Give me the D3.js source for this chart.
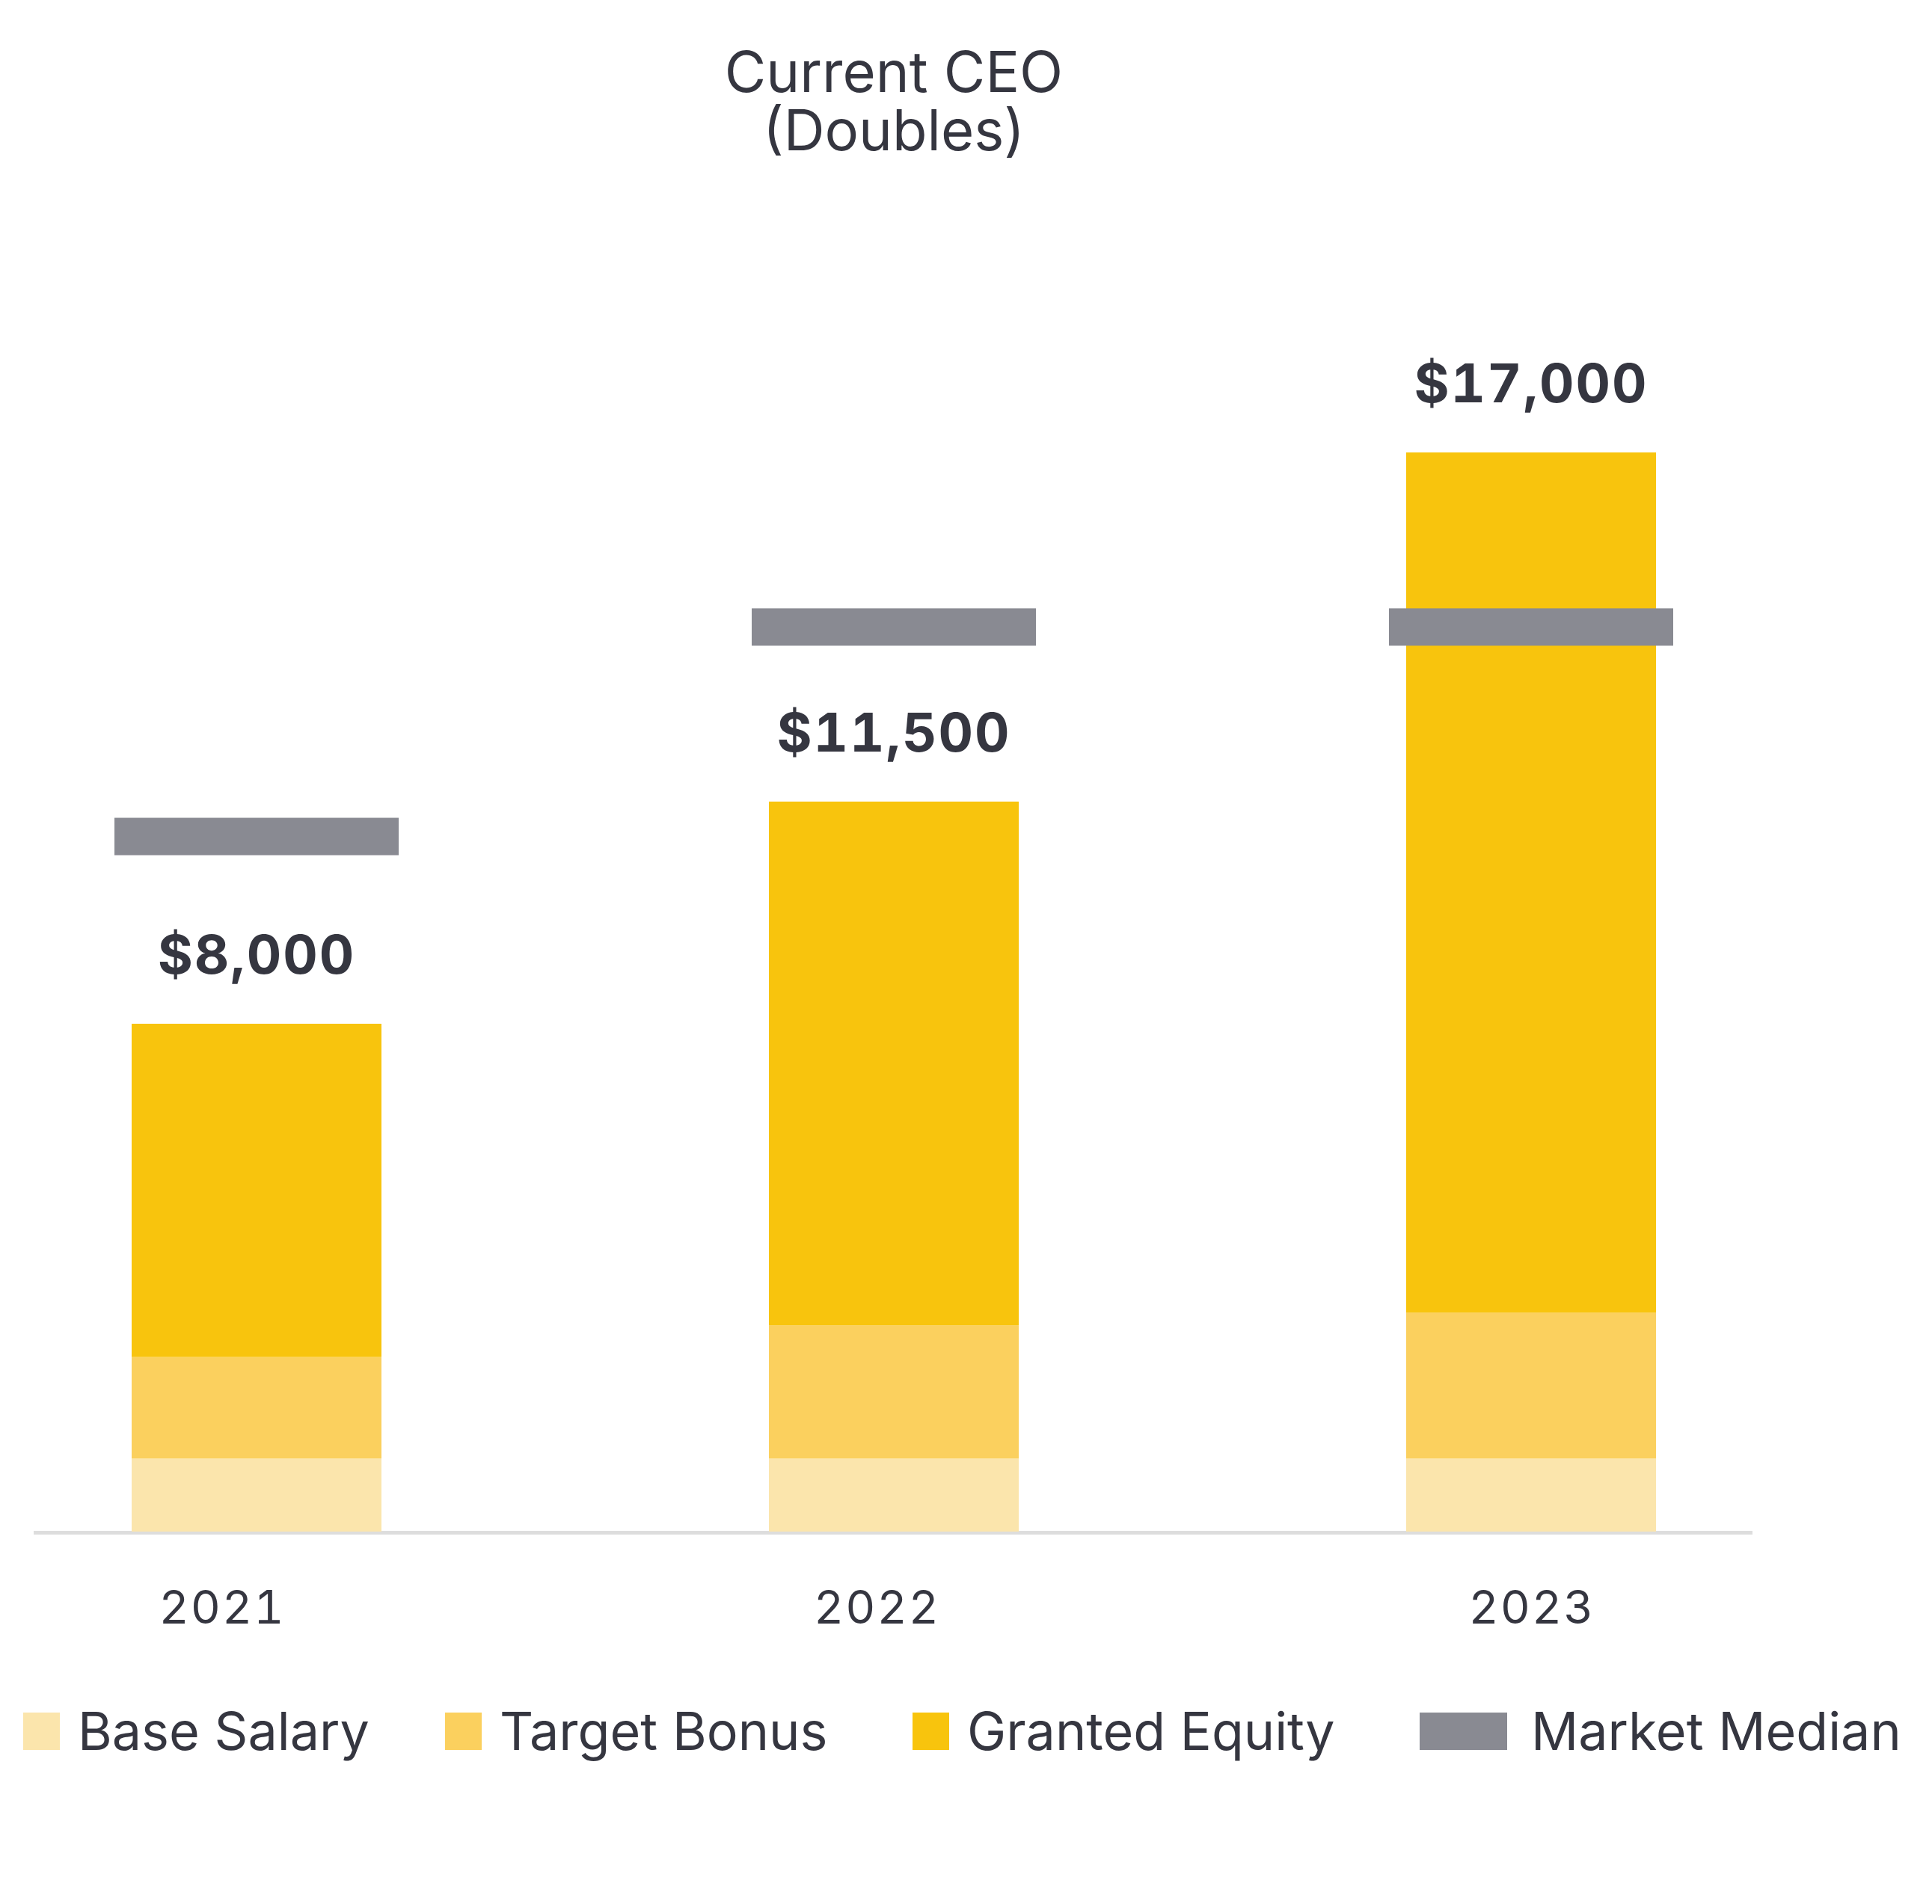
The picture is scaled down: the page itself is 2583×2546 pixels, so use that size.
<!DOCTYPE html>
<html>
<head>
<meta charset="utf-8">
<script src="https://cdn.jsdelivr.net/npm/d3@7"></script>
<style>
  html, body { margin: 0; padding: 0; background: #ffffff; }
  svg { display: block; }
  text { font-family: Inter, "Noto Sans", sans-serif; fill: #353640; }
  .num { font-variant-numeric: tabular-nums; font-feature-settings: "tnum" 1; }
</style>
</head>
<body>
<script>
// ---- data ----
const titleLines = ["Current CEO", "(Doubles)"];
const years = ["2021", "2022", "2023"];
const baseSalary = [1150, 1150, 1150];
const targetBonus = [1600, 2100, 2300];
const grantedEquity = [5250, 8250, 13550];
const marketMedian = [10950, 14250, 14250];
const seriesNames = ["Base Salary", "Target Bonus", "Granted Equity"];
const legendLabels = ["Base Salary", "Target Bonus", "Granted Equity", "Market Median"];

// ---- styles ----
const colors = ["#FBE5AC", "#FBD05E", "#F8C40D"];
const medianColor = "#898A92";
const W = 2583, H = 2546;

const svg = d3.select("body").append("svg").attr("width", W).attr("height", H);

const x = d3.scaleBand().domain(years).range([176, 2214]).paddingInner(0.608).paddingOuter(0);
const xLabel = d3.scalePoint().domain(years).range([297, 2048]);
const y = d3.scaleLinear().domain([0, 17000]).range([2048, 605]);

// title (one text element, two lines)
svg.append("text")
  .attr("x", 1195).attr("y", 123)
  .attr("text-anchor", "middle").attr("font-size", 76).attr("font-weight", 400)
  .selectAll("tspan").data(titleLines).join("tspan")
  .attr("x", 1195).attr("dy", (d, i) => i === 0 ? 0 : 78)
  .text(d => d);

// stacked data
const rows = years.map((yr, i) => ({
  year: yr,
  "Base Salary": baseSalary[i],
  "Target Bonus": targetBonus[i],
  "Granted Equity": grantedEquity[i]
}));
const stacked = d3.stack().keys(seriesNames)(rows);

// axis line
svg.append("line").attr("x1", 45).attr("x2", 2343)
  .attr("y1", y(0) + 1.5).attr("y2", y(0) + 1.5)
  .attr("stroke", "#DDDDDD").attr("stroke-width", 5);

svg.append("g").selectAll("g").data(stacked).join("g")
  .attr("fill", (d, i) => colors[i])
  .selectAll("rect").data(d => d).join("rect")
  .attr("x", d => x(d.data.year))
  .attr("width", x.bandwidth())
  .attr("y", d => y(d[1]))
  .attr("height", d => y(d[0]) - y(d[1]));

// market median markers
const mmExtra = 23;
svg.append("g").selectAll("rect").data(marketMedian).join("rect")
  .attr("x", (d, i) => x(years[i]) - mmExtra)
  .attr("width", x.bandwidth() + 2 * mmExtra)
  .attr("y", d => y(d) - 25)
  .attr("height", 50)
  .attr("fill", medianColor);

// totals
const fmt = d3.format("$,");
svg.append("g").selectAll("text").data(years).join("text")
  .attr("class", "num")
  .attr("x", d => x(d) + x.bandwidth() / 2)
  .attr("y", (d, i) => y(baseSalary[i] + targetBonus[i] + grantedEquity[i]) - 67)
  .attr("text-anchor", "middle").attr("font-size", 72).attr("font-weight", 700)
  .attr("letter-spacing", 2)
  .text((d, i) => fmt(baseSalary[i] + targetBonus[i] + grantedEquity[i]));

// x-axis labels
svg.append("g").selectAll("text").data(years).join("text")
  .attr("class", "num")
  .attr("x", d => xLabel(d))
  .attr("y", 2171)
  .attr("text-anchor", "middle").attr("font-size", 62).attr("letter-spacing", 2)
  .text(d => d);

// legend
const legendColors = colors.concat([medianColor]);
const swatchW = [49, 49, 49, 117];
const legendX = [31, 595, 1220, 1898];
const lg = svg.append("g");
legendLabels.forEach((lab, i) => {
  lg.append("rect").attr("x", legendX[i]).attr("y", 2290).attr("width", swatchW[i]).attr("height", 50)
    .attr("fill", legendColors[i]);
  lg.append("text").attr("x", legendX[i] + swatchW[i] + (i === 3 ? 32 : 24)).attr("y", 2340)
    .attr("font-size", 70).text(lab);
});
</script>
</body>
</html>
